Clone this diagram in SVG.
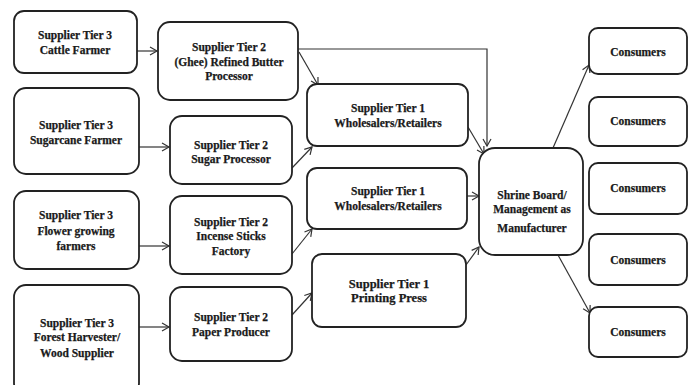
<svg xmlns="http://www.w3.org/2000/svg" width="692" height="385" viewBox="0 0 692 385">
<style>
.box{fill:#fff;stroke:#222;stroke-width:1.8}
.t{font-family:"Liberation Serif","Times New Roman",serif;font-weight:bold;font-size:11.5px;fill:#1a1a1a;stroke:#1a1a1a;stroke-width:0.25;text-anchor:middle}
.big{font-size:12.5px}
.c{fill:none;stroke:#333;stroke-width:1.2}
</style>
<defs>
<marker id="a" markerWidth="10" markerHeight="10" refX="8" refY="5" orient="auto" markerUnits="userSpaceOnUse">
<path d="M1,1 L8,5 L1,9" fill="none" stroke="#333" stroke-width="1.2"/>
</marker>
</defs>
<rect width="692" height="385" fill="#fff"/>
<g id="connectors">
<line class="c" x1="137" y1="51" x2="157" y2="51" marker-end="url(#a)"/>
<line class="c" x1="139" y1="147" x2="169" y2="147" marker-end="url(#a)"/>
<line class="c" x1="139" y1="246" x2="169" y2="246" marker-end="url(#a)"/>
<line class="c" x1="139" y1="327" x2="169" y2="327" marker-end="url(#a)"/>
<polyline class="c" points="298,49 487,49 487,146" marker-end="url(#a)"/>
<line class="c" x1="299" y1="52" x2="318" y2="85" marker-end="url(#a)"/>
<line class="c" x1="292" y1="168" x2="312" y2="147" marker-end="url(#a)"/>
<line class="c" x1="292" y1="254" x2="312" y2="229" marker-end="url(#a)"/>
<line class="c" x1="292" y1="315" x2="312" y2="293" marker-end="url(#a)"/>
<line class="c" x1="468" y1="127" x2="484" y2="154" marker-end="url(#a)"/>
<line class="c" x1="467" y1="196" x2="479" y2="196" marker-end="url(#a)"/>
<line class="c" x1="466" y1="265" x2="479" y2="247" marker-end="url(#a)"/>
<line class="c" x1="553" y1="148" x2="589" y2="65" marker-end="url(#a)"/>
<line class="c" x1="558" y1="255" x2="590" y2="313" marker-end="url(#a)"/>
</g>
<g id="cattle"><rect class="box" x="14" y="11" width="123" height="62" rx="10"/>
<text class="t" x="75" y="39">Supplier Tier 3</text><text class="t" x="75" y="54">Cattle Farmer</text></g>
<g id="ghee"><rect class="box" x="158" y="22" width="140" height="78" rx="12"/>
<text class="t" x="229" y="51">Supplier Tier 2</text><text class="t" x="229" y="66">(Ghee) Refined Butter</text><text class="t" x="229" y="80">Processor</text></g>
<g id="sugarcane"><rect class="box" x="14" y="88" width="125" height="86" rx="12"/>
<text class="t" x="76" y="129">Supplier Tier 3</text><text class="t" x="76" y="144">Sugarcane Farmer</text></g>
<g id="sugar"><rect class="box" x="170" y="116" width="122" height="68" rx="12"/>
<text class="t" x="231" y="149">Supplier Tier 2</text><text class="t" x="231" y="163">Sugar Processor</text></g>
<g id="flower"><rect class="box" x="14" y="191" width="125" height="78" rx="12"/>
<text class="t" x="76" y="219">Supplier Tier 3</text><text class="t" x="76" y="235">Flower growing</text><text class="t" x="76" y="250">farmers</text></g>
<g id="incense"><rect class="box" x="170" y="196" width="122" height="78" rx="12"/>
<text class="t" x="231" y="226">Supplier Tier 2</text><text class="t" x="231" y="240">Incense Sticks</text><text class="t" x="231" y="255">Factory</text></g>
<g id="forest"><rect class="box" x="14" y="285" width="125" height="110" rx="12"/>
<text class="t" x="77" y="327">Supplier Tier 3</text><text class="t" x="77" y="341">Forest Harvester/</text><text class="t" x="77" y="357">Wood Supplier</text></g>
<g id="paper"><rect class="box" x="170" y="287" width="122" height="74" rx="12"/>
<text class="t" x="231" y="321">Supplier Tier 2</text><text class="t" x="231" y="336">Paper Producer</text></g>
<g id="wholesale1"><rect class="box" x="307" y="84" width="161" height="62" rx="10"/>
<text class="t" x="388" y="112">Supplier Tier 1</text><text class="t" x="388" y="127">Wholesalers/Retailers</text></g>
<g id="wholesale2"><rect class="box" x="307" y="168" width="160" height="61" rx="10"/>
<text class="t" x="388" y="195">Supplier Tier 1</text><text class="t" x="388" y="210">Wholesalers/Retailers</text></g>
<g id="printing"><rect class="box" x="312" y="254" width="154" height="73" rx="10"/>
<text class="t big" x="389" y="288">Supplier Tier 1</text><text class="t big" x="389" y="302">Printing Press</text></g>
<g id="shrine"><rect class="box" x="479" y="148" width="104" height="107" rx="16"/>
<text class="t" x="532" y="199">Shrine Board/</text><text class="t" x="532" y="213">Management as</text><text class="t" x="532" y="232">Manufacturer</text></g>
<g id="consumer1"><rect class="box" x="589" y="28" width="98" height="46" rx="9"/><text class="t" x="638" y="56">Consumers</text></g>
<g id="consumer2"><rect class="box" x="589" y="97" width="98" height="49" rx="9"/><text class="t" x="638" y="125">Consumers</text></g>
<g id="consumer3"><rect class="box" x="589" y="163" width="98" height="51" rx="9"/><text class="t" x="638" y="192">Consumers</text></g>
<g id="consumer4"><rect class="box" x="589" y="234" width="98" height="51" rx="9"/><text class="t" x="638" y="264">Consumers</text></g>
<g id="consumer5"><rect class="box" x="589" y="307" width="98" height="50" rx="9"/><text class="t" x="638" y="336">Consumers</text></g>
</svg>
